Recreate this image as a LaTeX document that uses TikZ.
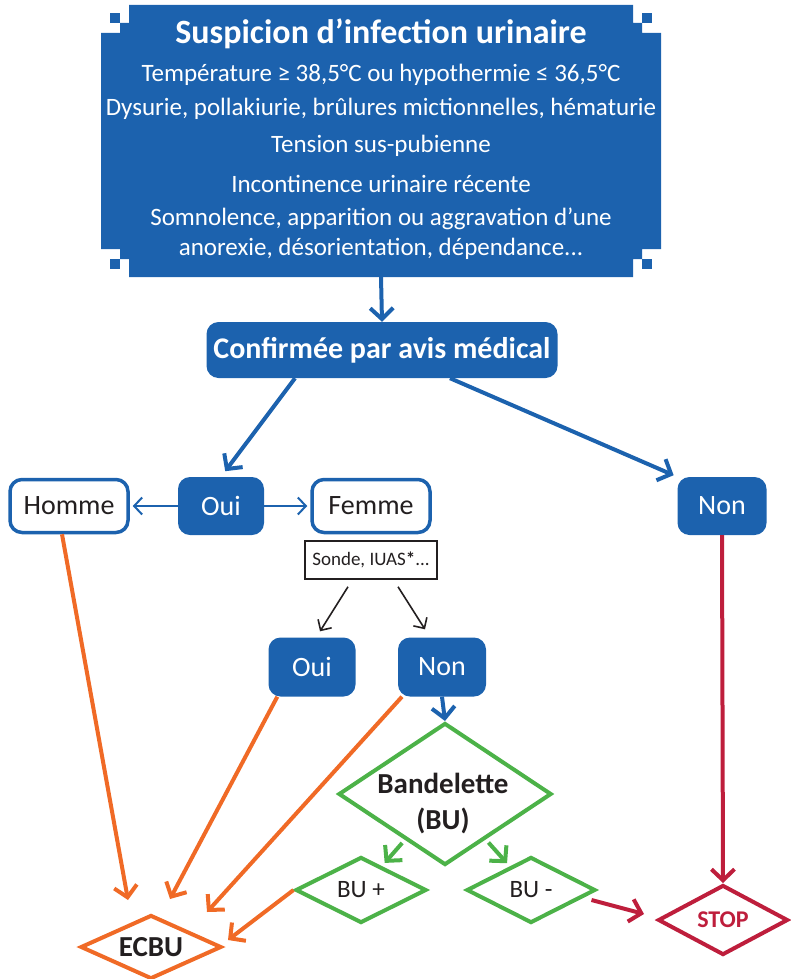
\documentclass[tikz,border=0pt]{standalone}
\usepackage{fontspec}
\setmainfont{Carlito}
\usepackage{tikz}
\usetikzlibrary{arrows.meta,shapes.geometric}
\definecolor{bleu}{RGB}{28,98,174}
\definecolor{vert}{RGB}{76,178,72}
\definecolor{orange}{RGB}{240,106,38}
\definecolor{rouge}{RGB}{190,30,60}
\definecolor{encre}{RGB}{35,31,32}
\newcommand{\fs}[1]{\fontsize{#1}{1.2\dimexpr#1pt\relax}\selectfont}

\begin{document}
\begin{tikzpicture}[x=1pt, y=-1pt,
  bluebox/.style={fill=bleu, rounded corners=12pt, text=white, minimum height=58pt, inner sep=0pt, font=\fs{28}},
  whitebox/.style={draw=bleu, line width=3.5pt, fill=white, rounded corners=12pt, text=encre, minimum width=118pt, minimum height=53pt, inner sep=0pt, font=\fs{28}},
  losange/.style={diamond, line width=4pt, fill=white, text=encre, inner sep=0pt},
  line/.style={white, font=\fs{25}},
  barb/.style={-{Straight Barb[length=11pt,width=23pt]}},
  bluearrow/.style={barb, draw=bleu, line width=4pt},
  thinarrow/.style={draw=bleu, line width=2pt, -{Straight Barb[length=8pt,width=17pt]}},
  blackarrow/.style={draw=encre, line width=1.6pt, -{Straight Barb[length=8pt,width=16pt]}},
  greenarrow/.style={barb, draw=vert, line width=4pt},
  orarrow/.style={barb, draw=orange, line width=4pt},
  redarrow/.style={barb, draw=rouge, line width=4pt}]
  \useasboundingbox (0,0) rectangle (790,979);

  % bloc du haut
  \fill[bleu] (129,5) -- (633,5) -- (633,23) -- (642,23) -- (642,33) -- (661,33) -- (661,249) -- (642,249) -- (642,259) -- (633,259) -- (633,277) -- (129,277) -- (129,259) -- (120,259) -- (120,249) -- (101,249) -- (101,33) -- (120,33) -- (120,23) -- (129,23) -- cycle;
  \foreach \x/\y in {110/13,642/13,110/259,642/259}
    \fill[bleu] (\x,\y) rectangle ++(10,10);
  \node (susp) [minimum width=560pt, minimum height=272pt] at (381,141) {};
  \node (titre) [white, font=\bfseries\fs{34}] at (381,34) {Suspicion d’infection urinaire};
  \node (l1) [line] at (381,75) {Température ≥ 38,5°C ou hypothermie ≤ 36,5°C};
  \node (l2) [line] at (381,109) {Dysurie, pollakiurie, brûlures mictionnelles, hématurie};
  \node (l3) [line] at (381,146) {Tension sus-pubienne};
  \node (l4) [line] at (381,184) {Incontinence urinaire récente};
  \node (l5) [line, align=center, font=\fontsize{25}{30}\selectfont] at (381,234)
    {Somnolence, apparition ou aggravation d’une\\anorexie, désorientation, dépendance...};

  % boites
  \node (conf) [bluebox, minimum width=351pt, minimum height=56pt, font=\bfseries\fs{30}] at (382,350) {Confirmée par avis médical};
  \node (oui) [bluebox, minimum width=86pt] at (221,506) {Oui};
  \node (nonr) [bluebox, minimum width=89pt] at (722,506) {Non};
  \node (homme) [whitebox] at (69,506) {Homme};
  \node (femme) [whitebox] at (371,506) {Femme};
  \node (sonde) [draw=encre, line width=1.5pt, minimum width=132pt, minimum height=38pt, inner sep=0pt, text=encre, font=\fs{19}] at (371,560) {Sonde, IUAS\textbf{*}...};
  \node (oui2) [bluebox, minimum width=87pt, minimum height=59pt] at (312,667) {Oui};
  \node (non2) [bluebox, minimum width=88pt, minimum height=59pt] at (442,667) {Non};

  % losanges
  \node (band) [losange, draw=vert, minimum width=213pt, minimum height=142pt] at (445,794) {};
  \node (bandtxt) [align=center, text=encre, font=\bfseries\fontsize{29}{36}\selectfont] at (443,804) {Bandelette\\(BU)};
  \node (bup) [losange, draw=vert, minimum width=131pt, minimum height=66pt, aspect=2.2, font=\fs{25}] at (361,890) {BU +};
  \node (bum) [losange, draw=vert, minimum width=129pt, minimum height=66pt, aspect=2.2, font=\fs{25}] at (531,890) {BU -};
  \node (ecbu) [losange, draw=orange, minimum width=141pt, minimum height=64pt, aspect=2.2, font=\bfseries\fs{29}] at (151,947) {ECBU};
  \node (stop) [losange, draw=rouge, text=rouge, minimum width=130pt, minimum height=70pt, aspect=2.2, font=\bfseries\fs{24}] at (723,920) {STOP};

  % bouts libres des fleches vers ECBU et STOP
  \coordinate (e1) at (128,900);
  \coordinate (e2) at (170,899);
  \coordinate (e3) at (207,912);
  \coordinate (e4) at (228,940);
  \coordinate (s1) at (644,914);

  % fleches
  \draw[bluearrow] (susp.south) -- (conf.north);
  \draw[bluearrow, shorten >=7pt] ([xshift=-87pt]conf.south) -- (oui.north);
  \draw[bluearrow, shorten >=4pt] ([xshift=68pt]conf.south) -- (nonr.north west);
  \draw[thinarrow, shorten >=3pt] (oui.west) -- (homme.east);
  \draw[thinarrow, shorten >=3pt] (oui.east) -- (femme.west);
  \draw[blackarrow] ([xshift=-23pt,yshift=-7pt]sonde.south) -- ([xshift=8pt,yshift=6pt]oui2.north);
  \draw[blackarrow] ([xshift=27pt,yshift=-7pt]sonde.south) -- ([xshift=-17pt,yshift=8pt]non2.north);
  \draw[bluearrow] (non2.south) -- (band.north);
  \draw[greenarrow, shorten <=4pt, shorten >=4pt] (band) -- (bup);
  \draw[greenarrow, shorten <=4pt, shorten >=4pt] (band) -- (bum);
  \draw[orarrow] ([xshift=-7pt]homme.south) -- (e1);
  \draw[orarrow] ([xshift=9pt]oui2.south west) -- (e2);
  \draw[orarrow] ([xshift=-40pt]non2.south) -- (e3);
  \draw[orarrow] (bup.west) -- (e4);
  \draw[redarrow] (nonr.south) -- (stop.north);
  \draw[redarrow] ([xshift=-6pt,yshift=-10pt]bum.east) -- (s1);
\end{tikzpicture}
\end{document}
